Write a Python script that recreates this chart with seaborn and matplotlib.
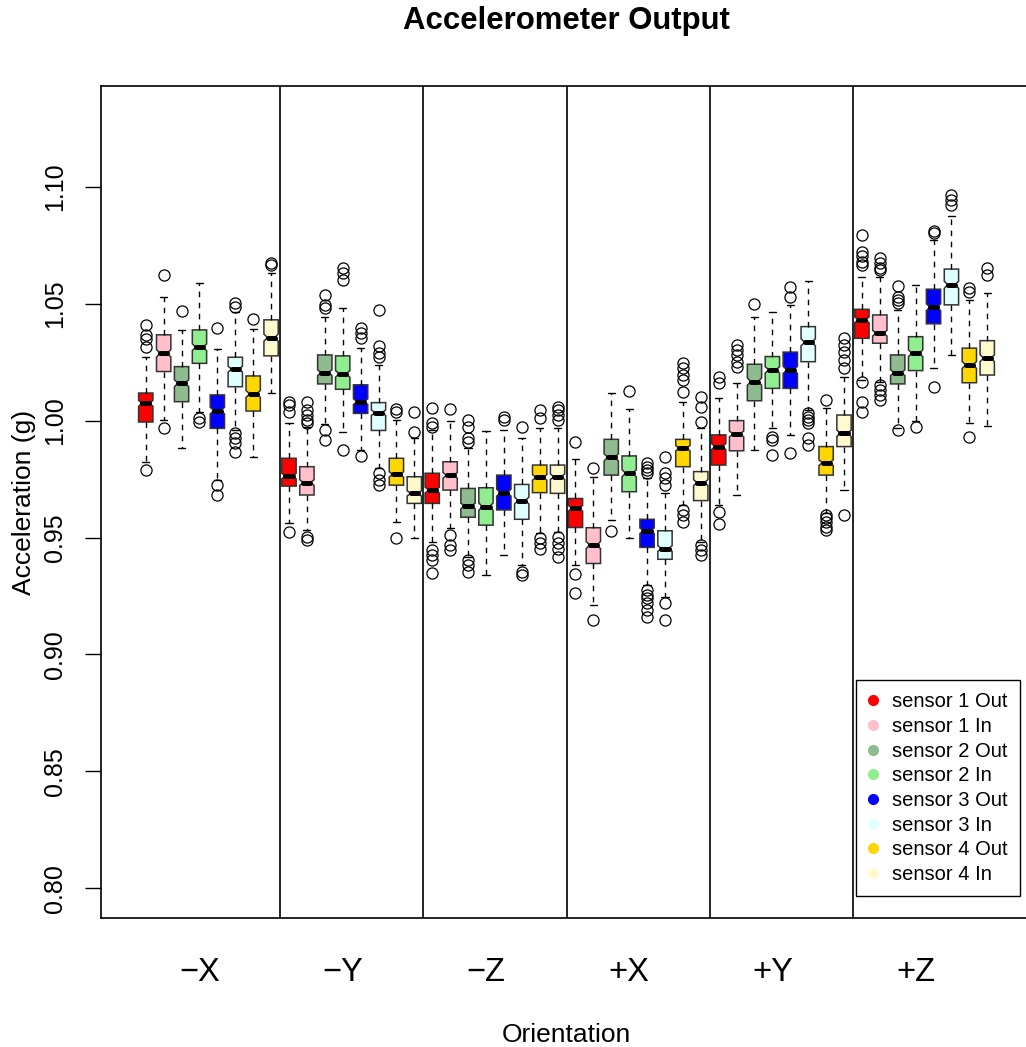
import matplotlib
matplotlib.use("Agg")
import matplotlib.pyplot as plt
from matplotlib.lines import Line2D
import seaborn as sns

# ---------------- data ----------------
ORIENTATIONS = ["\u2212X", "\u2212Y", "\u2212Z", "+X", "+Y", "+Z"]
SENSORS = ["sensor 1 Out", "sensor 1 In", "sensor 2 Out", "sensor 2 In",
           "sensor 3 Out", "sensor 3 In", "sensor 4 Out", "sensor 4 In"]
COLORS = ["red", "pink", "darkseagreen", "lightgreen",
          "blue", "lightcyan", "gold", "lemonchiffon"]

# 48 boxes: 6 orientations x 8 sensors (in SENSORS order)
Q1 = [0.9994, 1.0210, 1.0081, 1.0245, 0.9967, 1.0145, 1.0041, 1.0277,
      0.9720, 0.9682, 1.0157, 1.0134, 1.0031, 0.9958, 0.9724, 0.9646,
      0.9646, 0.9703, 0.9587, 0.9553, 0.9618, 0.9578, 0.9692, 0.9689,
      0.9543, 0.9389, 0.9767, 0.9696, 0.9458, 0.9407, 0.9803, 0.9658,
      0.9810, 0.9871, 1.0085, 1.0138, 1.0138, 1.0252, 0.9767, 0.9889,
      1.0352, 1.0331, 1.0157, 1.0214, 1.0414, 1.0495, 1.0162, 1.0195]
MEDIANS = [1.0074, 1.0288, 1.0160, 1.0314, 1.0043, 1.0220, 1.0114, 1.0355,
           0.9763, 0.9735, 1.0205, 1.0200, 1.0081, 1.0034, 0.9770, 0.9689,
           0.9703, 0.9766, 0.9635, 0.9632, 0.9692, 0.9658, 0.9757, 0.9760,
           0.9625, 0.9468, 0.9843, 0.9775, 0.9529, 0.9453, 0.9882, 0.9735,
           0.9889, 0.9943, 1.0167, 1.0217, 1.0217, 1.0335, 0.9820, 0.9946,
           1.0431, 1.0374, 1.0205, 1.0288, 1.0485, 1.0581, 1.0238, 1.0267]
Q3 = [1.0118, 1.0367, 1.0231, 1.0388, 1.0110, 1.0271, 1.0191, 1.0431,
      0.9839, 0.9803, 1.0281, 1.0277, 1.0153, 1.0077, 0.9839, 0.9760,
      0.9775, 0.9824, 0.9710, 0.9713, 0.9767, 0.9727, 0.9810, 0.9810,
      0.9667, 0.9542, 0.9920, 0.9849, 0.9578, 0.9529, 0.9920, 0.9782,
      0.9939, 1.0000, 1.0241, 1.0274, 1.0293, 1.0402, 0.9889, 1.0024,
      1.0476, 1.0452, 1.0281, 1.0359, 1.0562, 1.0648, 1.0310, 1.0342]
WHISK_LO = [0.9824, 1.0003, 0.9882, 1.0038, 0.9746, 0.9960, 0.9846, 1.0120,
            0.9563, 0.9532, 0.9986, 0.9953, 0.9874, 0.9796, 0.9568, 0.9496,
            0.9482, 0.9539, 0.9418, 0.9340, 0.9425, 0.9382, 0.9520, 0.9525,
            0.9382, 0.9211, 0.9575, 0.9496, 0.9297, 0.9247, 0.9639, 0.9482,
            0.9639, 0.9682, 0.9874, 0.9967, 0.9939, 1.0046, 0.9603, 0.9703,
            1.0174, 1.0167, 0.9967, 1.0000, 1.0224, 1.0281, 0.9989, 0.9977]
WHISK_HI = [1.0274, 1.0530, 1.0388, 1.0588, 1.0305, 1.0466, 1.0391, 1.0633,
            0.9991, 0.9974, 1.0445, 1.0480, 1.0310, 1.0238, 1.0003, 0.9924,
            0.9960, 1.0000, 0.9882, 0.9956, 0.9960, 0.9924, 0.9967, 0.9967,
            0.9834, 0.9760, 1.0117, 1.0049, 0.9753, 0.9689, 1.0081, 0.9967,
            1.0096, 1.0160, 1.0445, 1.0466, 1.0495, 1.0595, 1.0053, 1.0188,
            1.0616, 1.0616, 1.0473, 1.0581, 1.0773, 1.0876, 1.0516, 1.0545]
OUTLIERS = [
    [1.0410, 1.0367, 1.0350, 1.0315, 0.9789],
    [1.0623, 0.9967],
    [1.0469],
    [1.0011, 0.9996],
    [1.0395, 0.9725, 0.9682],
    [1.0502, 1.0488, 0.9947, 0.9926, 0.9904, 0.9866],
    [1.0434],
    [1.0673, 1.0666],
    [1.0081, 1.0067, 1.0038, 0.9525],
    [1.0080, 1.0046, 1.0024, 1.0003, 0.9989, 0.9503, 0.9489],
    [1.0538, 1.0495, 1.0480, 0.9960, 0.9917],
    [1.0652, 1.0630, 1.0602, 0.9874],
    [1.0395, 1.0374, 1.0352, 0.9849],
    [1.0473, 1.0317, 1.0288, 1.0274, 0.9775, 0.9746, 0.9725],
    [1.0048, 1.0038, 0.9496],
    [1.0038, 0.9953],
    [1.0053, 0.9989, 0.9974, 0.9446, 0.9425, 0.9403, 0.9348],
    [1.0049, 0.9510, 0.9468, 0.9446],
    [1.0003, 0.9974, 0.9924, 0.9910, 0.9403, 0.9382, 0.9353],
    [],
    [1.0017, 1.0003],
    [0.9971, 0.9353, 0.9340],
    [1.0046, 1.0010, 0.9496, 0.9475, 0.9453],
    [1.0060, 1.0046, 1.0024, 1.0003, 0.9503, 0.9475, 0.9453, 0.9418],
    [0.9910, 0.9344, 0.9261],
    [0.9796, 0.9147],
    [0.9529],
    [1.0128],
    [0.9817, 0.9803, 0.9789, 0.9775, 0.9275, 0.9254, 0.9240, 0.9218, 0.9190, 0.9161],
    [0.9846, 0.9775, 0.9753, 0.9725, 0.9218, 0.9147],
    [1.0245, 1.0224, 1.0195, 1.0174, 1.0124, 0.9618, 0.9596, 0.9568],
    [1.0103, 1.0060, 0.9996, 0.9468, 0.9446, 0.9425],
    [1.0188, 1.0160, 0.9610, 0.9560],
    [1.0324, 1.0302, 1.0281, 1.0252, 1.0231],
    [1.0498],
    [0.9931, 0.9917, 0.9853],
    [1.0573, 1.0530, 0.9860],
    [1.0031, 1.0017, 1.0003, 0.9989, 0.9924, 0.9896],
    [1.0088, 0.9596, 0.9582, 0.9568, 0.9546, 0.9532],
    [1.0352, 1.0324, 1.0295, 1.0260, 1.0224, 0.9596],
    [1.0795, 1.0723, 1.0702, 1.0680, 1.0666, 1.0167, 1.0081, 1.0038],
    [1.0695, 1.0673, 1.0652, 1.0645, 1.0153, 1.0131, 1.0110, 1.0088],
    [1.0576, 1.0530, 1.0516, 1.0502, 0.9958],
    [0.9971],
    [1.0813, 1.0802, 1.0143],
    [1.0966, 1.0944, 1.0923],
    [1.0566, 1.0552, 0.9931],
    [1.0652, 1.0623],
]
Y_TICKS = [0.80, 0.85, 0.90, 0.95, 1.00, 1.05, 1.10]

# ---------------- style ----------------
sns.set_theme(style="white")
plt.rcParams["font.family"] = ["Liberation Sans", "DejaVu Sans"]
plt.rcParams["axes.unicode_minus"] = True
for key in ["text.color", "axes.labelcolor", "xtick.color", "ytick.color"]:
    plt.rcParams[key] = "black"

NOTCH_K = 0.10  # notch half-height relative to box height

n_sens = len(SENSORS)
positions = list(range(1, len(MEDIANS) + 1))
stats = []
for i in range(len(MEDIANS)):
    iqr = Q3[i] - Q1[i]
    stats.append(dict(med=MEDIANS[i], q1=Q1[i], q3=Q3[i],
                      whislo=WHISK_LO[i], whishi=WHISK_HI[i],
                      fliers=OUTLIERS[i],
                      cilo=MEDIANS[i] - NOTCH_K * iqr,
                      cihi=MEDIANS[i] + NOTCH_K * iqr))

W, H = 1026, 1047
fig = plt.figure(figsize=(W / 100, H / 100), dpi=100)
ax = fig.add_axes([101 / W, 1 - 918 / H, (1032 - 101) / W, (918 - 86) / H])

bp = ax.bxp(stats, positions=positions, widths=0.8, shownotches=True,
            patch_artist=True, showfliers=True, capwidths=0.4,
            boxprops=dict(edgecolor="#333333", linewidth=1.1),
            medianprops=dict(color="black", linewidth=3.6, solid_capstyle="round"),
            whiskerprops=dict(color="black", linewidth=1.0, linestyle=(0, (4, 4))),
            capprops=dict(color="black", linewidth=1.0),
            flierprops=dict(marker="o", markerfacecolor="none",
                            markeredgecolor="black", markersize=8,
                            markeredgewidth=0.9, linestyle="none"))
for i, patch in enumerate(bp["boxes"]):
    patch.set_facecolor(COLORS[i % n_sens])

# group separators
for g in range(1, len(ORIENTATIONS)):
    ax.axvline(g * n_sens + 0.5, color="black", linewidth=1.2)

ax.set_xlim(-1.5, 50.5)
ax.set_ylim(0.7873, 1.1431)

ax.set_yticks(Y_TICKS)
ax.set_yticklabels([f"{v:.2f}" for v in Y_TICKS], rotation=90, va="center",
                   fontsize=18)
ax.tick_params(axis="y", direction="out", length=11.5, width=1.0, pad=13,
               left=True, color="black")
ax.set_xticks([g * n_sens + 4 for g in range(len(ORIENTATIONS))])
ax.set_xticklabels(ORIENTATIONS, fontsize=23.5)
ax.tick_params(axis="x", length=0, pad=28)

for s in ax.spines.values():
    s.set_color("black")
    s.set_linewidth(1.2)

ax.set_xlabel("Orientation", fontsize=19, labelpad=25)
ax.set_ylabel("Acceleration (g)", fontsize=19, labelpad=5)
fig.text(566 / W, 1 - 21 / H, "Accelerometer Output", ha="center",
         va="center", fontsize=22.4, fontweight="bold")

handles = [Line2D([0], [0], marker="o", linestyle="none", markersize=7,
                  markerfacecolor=c, markeredgecolor=c) for c in COLORS]
leg = ax.legend(handles, SENSORS, loc="lower right",
                bbox_to_anchor=((1020 - 101) / 931, (918 - 896) / 832),
                borderaxespad=0, fontsize=14.5, frameon=True, fancybox=False,
                edgecolor="black", framealpha=1, labelspacing=0.28,
                handletextpad=0.7, handlelength=0.5, borderpad=0.6)
leg.get_frame().set_linewidth(1.0)

fig.savefig("out.png", dpi=100)
